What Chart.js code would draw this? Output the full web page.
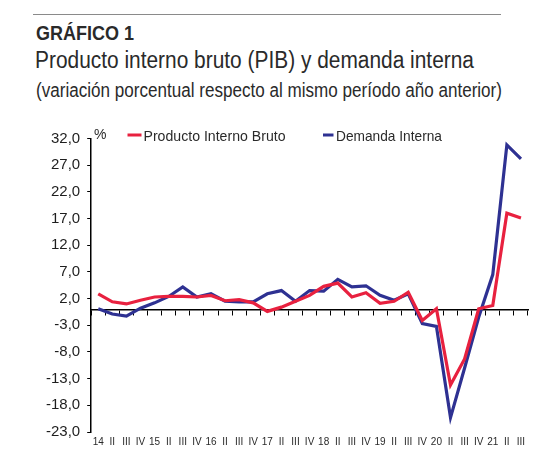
<!DOCTYPE html>
<html>
<head>
<meta charset="utf-8">
<script src="https://cdn.jsdelivr.net/npm/chart.js@4/dist/chart.umd.min.js"></script>
<style>
html,body{margin:0;padding:0;background:#fff;}
#wrap{position:relative;width:550px;height:466px;overflow:hidden;font-family:"Liberation Sans",Arial,sans-serif;color:#2a2a2a;}
#rule{position:absolute;left:33px;top:14px;width:468px;height:1px;background:#8a8a8a;}
.t{position:absolute;white-space:nowrap;transform-origin:0 0;line-height:1;}
#t1{left:36px;top:23px;font-weight:bold;font-size:20px;}
#t2{left:35px;top:48.5px;font-size:23px;}
#t3{left:36px;top:80px;font-size:20px;}
canvas{position:absolute;left:0;top:0;}
</style>
</head>
<body>
<div id="wrap">
  <div id="rule"></div>
  <div class="t" id="t1" data-w="98">GRÁFICO 1</div>
  <div class="t" id="t2" data-w="439">Producto interno bruto (PIB) y demanda interna</div>
  <div class="t" id="t3" data-w="466">(variación porcentual respecto al mismo período año anterior)</div>
  <canvas id="c" width="550" height="466"></canvas>
</div>
<script>
// ---- data ----
const categories = ['14','II','III','IV','15','II','III','IV','16','II','III','IV','17','II','III','IV','18','II','III','IV','19','II','III','IV','20','II','III','IV','21','II','III'];
const pib      = [2.9, 1.4, 1.0, 1.7, 2.3, 2.4, 2.4, 2.3, 2.6, 1.6, 1.8, 1.2, -0.4, 0.4, 1.5, 2.6, 4.3, 4.9, 2.3, 3.1, 1.1, 1.5, 3.2, -2.1, 0.1, -14.2, -9.3, 0.1, 0.7, 18.0, 17.1];
const demanda  = [0.1, -0.9, -1.3, 0.2, 1.2, 2.4, 4.2, 2.3, 2.9, 1.5, 1.4, 1.4, 2.9, 3.5, 1.5, 3.5, 3.4, 5.6, 4.2, 4.4, 2.6, 1.7, 2.9, -2.7, -3.2, -20.3, -11.0, -1.5, 6.5, 30.8, 28.2];
const seriesNames = ['Producto Interno Bruto', 'Demanda Interna'];
const yMin = -23, yMax = 32, yStep = 5;
const unitLabel = '%';

// fit title widths (condensed original face)
document.querySelectorAll('.t').forEach(el => {
  const w = el.getBoundingClientRect().width;
  el.style.transform = 'scaleX(' + (parseFloat(el.dataset.w) / w) + ')';
});

const legendPlugin = {
  id: 'customLegend',
  afterDraw(chart) {
    const ctx = chart.ctx;
    ctx.save();
    ctx.fillStyle = '#2a2a2a';
    ctx.textBaseline = 'alphabetic';
    ctx.font = '14px "Liberation Sans", Arial, sans-serif';
    ctx.fillText(unitLabel, 94, 139);
    const items = [
      {x0: 127.5, x1: 141.5, tx: 143.5},
      {x0: 323, x1: 333.5, tx: 336}
    ];
    ctx.font = '15px "Liberation Sans", Arial, sans-serif';
    chart.data.datasets.forEach((ds, i) => {
      const it = items[i];
      ctx.strokeStyle = ds.borderColor;
      ctx.lineWidth = 3;
      ctx.beginPath();
      ctx.moveTo(it.x0, 135);
      ctx.lineTo(it.x1, 135);
      ctx.stroke();
      ctx.fillStyle = '#2a2a2a';
      const w = ctx.measureText(ds.label).width;
      const target = i === 0 ? 142 : 106;
      ctx.save();
      ctx.translate(it.tx, 141);
      ctx.scale(target / w, 1);
      ctx.fillText(ds.label, 0, 0);
      ctx.restore();
    });
    ctx.restore();
  }
};

new Chart(document.getElementById('c'), {
  type: 'line',
  data: {
    labels: categories,
    datasets: [
      {label: seriesNames[0], data: pib, borderColor: '#E8213F', borderWidth: 3.2, pointRadius: 0, tension: 0, fill: false},
      {label: seriesNames[1], data: demanda, borderColor: '#2E3192', borderWidth: 3.2, pointRadius: 0, tension: 0, fill: false}
    ]
  },
  options: {
    responsive: false,
    animation: false,
    layout: {padding: {left: 39, right: 22, top: 138.5, bottom: 14}},
    plugins: {legend: {display: false}, tooltip: {enabled: false}, title: {display: false}},
    scales: {
      x: {
        type: 'category', offset: true,
        grid: {display: false, drawTicks: false},
        border: {display: false},
        ticks: {autoSkip: false, maxRotation: 0, minRotation: 0, padding: 4, color: '#2a2a2a',
                font: {family: '"Liberation Sans", Arial, sans-serif', size: 10}}
      },
      x0: {
        type: 'category', offset: true, position: {y: 0},
        grid: {offset: true, drawOnChartArea: false, drawTicks: true, tickLength: 5, color: '#000', lineWidth: 1},
        border: {display: true, color: '#000', width: 1.5},
        ticks: {display: false}
      },
      y: {
        min: yMin, max: yMax,
        ticks: {stepSize: yStep, padding: 7, color: '#1e1e1e',
                font: {family: '"Liberation Sans", Arial, sans-serif', size: 15},
                callback: v => v.toFixed(1).replace('.', ',')},
        grid: {drawOnChartArea: false, drawTicks: true, tickLength: 4, color: '#000', lineWidth: 1},
        border: {display: true, color: '#000', width: 1.5}
      }
    }
  },
  plugins: [legendPlugin]
});
</script>
</body>
</html>
